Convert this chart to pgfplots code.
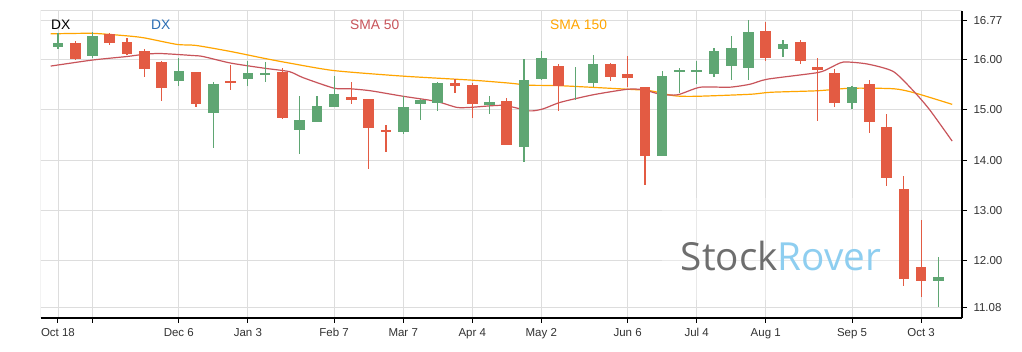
\documentclass[border=0pt]{standalone}
\usepackage{pgfplots}
\pgfplotsset{compat=1.18}
\usepackage{pgfplotstable}
\usepackage{fontspec}
\setmainfont{Liberation Sans}
\newfontfamily\wmfont{Open Sans}
\definecolor{cgreen}{RGB}{95,166,115}
\definecolor{cred}{RGB}{227,91,67}
\definecolor{smared}{RGB}{200,84,90}
\definecolor{smaorange}{RGB}{255,165,0}
\definecolor{dxblue}{RGB}{44,110,180}
\definecolor{gridc}{RGB}{221,221,221}
\definecolor{labc}{RGB}{51,51,51}
\definecolor{wmgrey}{RGB}{110,110,110}
\definecolor{wmblue}{RGB}{142,206,240}

% weekly candles: index, open, high, low, close
\pgfplotstableread{
i o h l c
0 16.24 16.52 16.20 16.32
2 16.08 16.54 16.03 16.47
7 15.57 16.04 15.47 15.77
9 14.93 15.56 14.25 15.52
11 15.61 15.97 15.47 15.73
12 15.71 15.95 15.55 15.73
14 14.61 15.27 14.12 14.80
15 14.75 15.27 14.75 15.08
16 15.05 15.67 15.05 15.32
20 14.57 15.28 14.52 15.05
21 15.12 15.21 14.80 15.20
22 15.14 15.55 14.97 15.54
25 15.10 15.28 14.91 15.15
27 14.26 16.01 13.96 15.59
28 15.62 16.17 15.60 16.03
30 15.52 15.85 15.20 15.52
31 15.54 16.09 15.45 15.91
35 14.09 15.77 14.09 15.67
36 15.77 15.83 15.33 15.79
37 15.77 15.98 15.51 15.79
38 15.72 16.22 15.65 16.16
39 15.88 16.46 15.59 16.22
40 15.84 16.79 15.59 16.54
42 16.20 16.38 16.05 16.31
46 15.14 15.48 15.01 15.45
51 11.60 12.08 11.08 11.69
}\upc

\pgfplotstableread{
i o h l c
1 16.32 16.36 16.00 16.01
3 16.51 16.52 16.28 16.32
4 16.35 16.43 16.09 16.11
5 16.17 16.20 15.65 15.82
6 15.95 15.97 15.18 15.44
8 15.75 15.76 15.05 15.11
10 15.57 15.89 15.40 15.54
13 15.75 15.83 14.82 14.83
17 15.26 15.56 15.11 15.20
18 15.22 15.22 13.82 14.65
19 14.60 14.70 14.17 14.56
23 15.53 15.62 15.33 15.48
24 15.49 15.53 14.84 15.11
26 15.18 15.24 14.31 14.31
29 15.87 15.91 14.97 15.48
32 15.91 15.94 15.57 15.65
33 15.71 16.07 15.45 15.64
34 15.45 15.46 13.51 14.09
41 16.56 16.74 15.97 16.04
43 16.35 16.38 15.91 15.98
44 15.85 16.03 14.77 15.80
45 15.73 15.81 15.05 15.14
47 15.51 15.60 14.54 14.75
48 14.66 14.91 13.49 13.64
49 13.43 13.69 11.50 11.65
50 11.87 12.81 11.29 11.61
}\downc

\pgfplotstableread{
i v
-0.42 15.87
2 15.99
4 16.06
4.9 16.10
5.9 16.12
7.8 16.08
8.4 16.06
10 15.93
11.9 15.83
13.4 15.76
14.2 15.64
16 15.43
16.9 15.42
18.1 15.38
20 15.27
21.9 15.17
23.1 15.05
23.9 15.05
25.8 15.09
27.3 14.98
28.1 15.02
29.1 15.15
31 15.30
33 15.41
33.9 15.40
34.9 15.31
35.9 15.30
37.2 15.45
38.9 15.45
40.1 15.51
41.1 15.61
44 15.74
44.7 15.83
45.5 15.95
46.9 15.91
48.4 15.76
49.6 15.36
50.5 15.00
51.8 14.38
}\smafifty

\pgfplotstableread{
i v
-0.42 16.51
2 16.52
4 16.47
5 16.43
6.9 16.30
8 16.28
10 16.16
12 16.02
13.4 15.93
16 15.78
20 15.67
24 15.59
26.2 15.53
27.3 15.49
29.1 15.48
33 15.41
34.3 15.38
35.7 15.28
37 15.27
40.1 15.31
41.3 15.35
44 15.38
45.9 15.43
48.4 15.42
49.6 15.34
51.8 15.11
}\smaonefifty

\begin{document}
\begin{tikzpicture}[x=1pt,y=1pt]
\fill[white] (0,0) rectangle (1022,352);
\begin{axis}[
  at={(40.7pt,34pt)}, anchor=south west,
  scale only axis, width=921.3pt, height=307.3pt,
  xmin=-1.0, xmax=52.37, ymin=10.867, ymax=16.97,
  axis x line*=bottom, axis y line*=right,
  axis line style={black, line width=1.2pt, -},
  tick align=outside, major tick length=5pt,
  tick style={black, line width=1pt},
  xtick={0,2,7,11,16,20,24,28,33,37,41,46,50},
  xticklabels={Oct 18,,Dec 6,Jan 3,Feb 7,Mar 7,Apr 4,May 2,Jun 6,Jul 4,Aug 1,Sep 5,Oct 3},
  ytick={11.08,12,13,14,15,16,16.77},
  yticklabels={11.08,12.00,13.00,14.00,15.00,16.00,16.77},
  grid=major, grid style={draw=gridc, line width=0.9pt},
  ticklabel style={font=\fontsize{11.5}{13}\selectfont, text=labc},
  yticklabel style={xshift=3pt},
  xticklabel style={yshift=-2pt},
]
\draw[gridc, line width=0.9pt] (rel axis cs:0,0) -- (rel axis cs:0,1) -- (rel axis cs:1,1);
\addplot[smaorange, line width=1.2pt, smooth, tension=0.4, mark=none] table[x=i,y=v] {\smaonefifty};
\addplot[smared, line width=1.2pt, smooth, tension=0.4, mark=none] table[x=i,y=v] {\smafifty};
% wicks
\addplot[draw=none, mark=none, forget plot, error bars/.cd, y dir=both, y explicit, error mark=none,
  error bar style={draw=cgreen, line width=1.2pt}]
  table[x=i, y expr={(\thisrow{h}+\thisrow{l})/2}, y error expr={(\thisrow{h}-\thisrow{l})/2}] {\upc};
\addplot[draw=none, mark=none, forget plot, error bars/.cd, y dir=both, y explicit, error mark=none,
  error bar style={draw=cred, line width=1.2pt}]
  table[x=i, y expr={(\thisrow{h}+\thisrow{l})/2}, y error expr={(\thisrow{h}-\thisrow{l})/2}] {\downc};
% bodies
\addplot[draw=none, mark=none, forget plot, error bars/.cd, y dir=both, y explicit, error mark=none,
  error bar style={draw=cgreen, line width=10.6pt}]
  table[x=i, y expr={(\thisrow{o}+\thisrow{c})/2}, y error expr={abs(\thisrow{c}-\thisrow{o})/2}] {\upc};
\addplot[draw=none, mark=none, forget plot, error bars/.cd, y dir=both, y explicit, error mark=none,
  error bar style={draw=cred, line width=10.6pt}]
  table[x=i, y expr={(\thisrow{o}+\thisrow{c})/2}, y error expr={abs(\thisrow{c}-\thisrow{o})/2}] {\downc};
\end{axis}
% watermark
\fill[white, opacity=0.35] (662,52) rectangle (899,154);
\node[anchor=base west, inner sep=0pt, font=\wmfont\fontsize{38.7}{40}\selectfont] at (680.7,81)
  {\textcolor{wmgrey}{Stock}\textcolor{wmblue}{Rover}};
% legend texts
\begin{scope}[every node/.style={anchor=west, inner sep=0pt, font=\fontsize{13.8}{16}\selectfont}]
\node[text=black] at (51,327) {DX};
\node[text=dxblue] at (151,327) {DX};
\node[text=smared] at (350,327) {SMA 50};
\node[text=smaorange] at (550,327) {SMA 150};
\end{scope}
\pgfresetboundingbox
\path[use as bounding box] (0,0) rectangle (1022,352);
\end{tikzpicture}
\end{document}
